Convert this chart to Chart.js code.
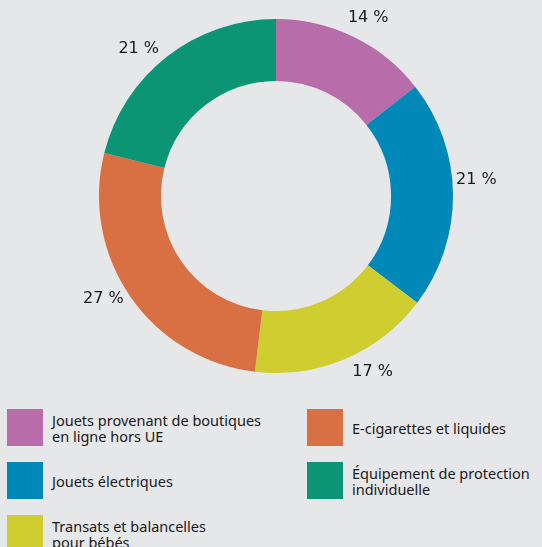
<!DOCTYPE html>
<html>
<head>
<meta charset="utf-8">
<script src="https://cdn.jsdelivr.net/npm/chart.js@4/dist/chart.umd.min.js"></script>
<style>
  html, body { margin: 0; padding: 0; background: #e6e7e9; }
  body { width: 542px; height: 547px; overflow: hidden; position: relative; }
  #wrap { position: absolute; left: 0; top: 0; width: 542px; height: 400px; }
  #legend {
    position: absolute; left: 7px; top: 409px;
    display: grid; grid-auto-flow: column;
    grid-template-columns: 300px 240px;
    grid-template-rows: repeat(3, 37px);
    row-gap: 16px;
    font-family: "Noto Sans", sans-serif; font-size: 14.5px; line-height: 16px; color: #1a1a1a;
  }
  .item { display: flex; align-items: center; }
  .box { width: 36px; height: 37px; flex: none; margin-right: 9px; }
</style>
</head>
<body>
<div id="wrap"><canvas id="myChart"></canvas></div>
<div id="legend"></div>
<script>
const categories = [
    "Jouets provenant de boutiques\nen ligne hors UE",
    "Jouets électriques",
    "Transats et balancelles\npour bébés",
    "E-cigarettes et liquides",
    "Équipement de protection\nindividuelle"
];
// shares in % (the printed labels are these rounded)
const shares = [14.4, 20.9, 16.6, 27.0, 21.1];
const colours = ['#b86ca9', '#0088b9', '#cfcd30', '#d97044', '#0c9575'];

// small hand placement of the % labels, in degrees round the ring
const labelNudge = [1.4, -4.2, -5.7, 3.8, -5.1];

// legend, same order as the slices
const legend = document.getElementById('legend');
categories.forEach((name, i) => {
    const item = document.createElement('div');
    item.className = 'item';
    const box = document.createElement('div');
    box.className = 'box';
    box.style.background = colours[i];
    const txt = document.createElement('div');
    txt.innerHTML = name.split('\n').join('<br>');
    item.appendChild(box);
    item.appendChild(txt);
    legend.appendChild(item);
});

// percent labels outside the ring
const outsideLabels = {
    id: 'outsideLabels',
    afterDatasetsDraw(chart) {
        const ctx = chart.ctx;
        const meta = chart.getDatasetMeta(0);
        ctx.save();
        ctx.font = '16px "DejaVu Sans"';
        ctx.fillStyle = '#1a1a1a';
        ctx.textAlign = 'center';
        ctx.textBaseline = 'middle';
        meta.data.forEach((arc, i) => {
            const mid = (arc.startAngle + arc.endAngle) / 2 + labelNudge[i] * Math.PI / 180;
            const r = arc.outerRadius + 24;
            ctx.fillText(Math.round(shares[i]) + ' %', arc.x + Math.cos(mid) * r, arc.y + Math.sin(mid) * r);
        });
        ctx.restore();
    }
};

function createChart() {
    const ctx = document.getElementById('myChart').getContext('2d');
    const config = {
        type: 'doughnut',
        data: {
            labels: categories,
            datasets: [{
                data: shares,
                backgroundColor: colours,
                borderWidth: 0
            }]
        },
        options: {
            responsive: true,
            maintainAspectRatio: false,
            animation: false,
            cutout: '65%',
            layout: { padding: { top: 19, bottom: 27, left: 10, right: 0 } },
            plugins: {
                legend: { display: false },
                tooltip: { enabled: false }
            }
        },
        plugins: [outsideLabels]
    };
    new Chart(ctx, config);
}
createChart();
</script>
</body>
</html>
